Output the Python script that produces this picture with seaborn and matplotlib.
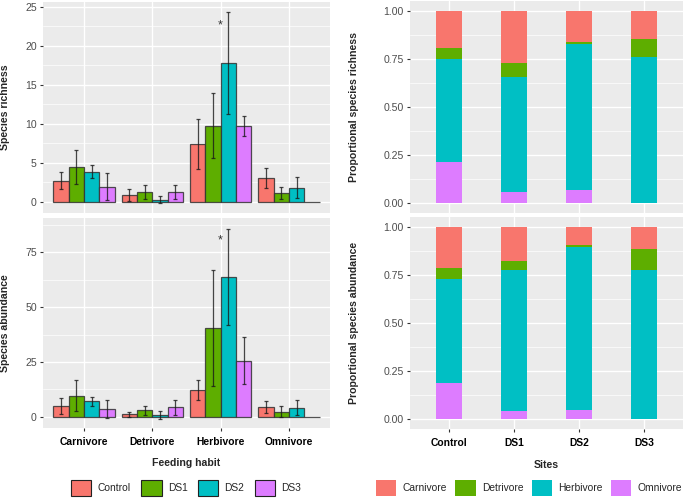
import numpy as np
import pandas as pd
import matplotlib.pyplot as plt
import seaborn as sns
from matplotlib.patches import Patch
from matplotlib.ticker import MultipleLocator

habits = ['Carnivore', 'Detrivore', 'Herbivore', 'Omnivore']
sites = ['Control', 'DS1', 'DS2', 'DS3']

# mean and standard error, rows = feeding habit, columns = site
rich_mean = [[2.70, 4.43, 3.87, 1.91],
             [0.87, 1.22, 0.26, 1.22],
             [7.34, 9.74, 17.80, 9.66],
             [3.00, 1.07, 1.80, 0.00]]
rich_se = [[1.11, 2.20, 0.80, 1.75],
           [0.78, 0.92, 0.44, 0.92],
           [3.20, 4.20, 6.55, 1.30],
           [1.29, 0.75, 1.33, 0.00]]

abun_mean = [[5.0, 9.7, 7.0, 3.6],
             [1.1, 2.9, 0.9, 4.3],
             [12.0, 40.6, 63.9, 25.5],
             [4.5, 2.4, 4.2, 0.0]]
abun_se = [[3.50, 6.90, 2.25, 4.00],
           [1.20, 1.90, 1.70, 3.40],
           [4.55, 26.40, 21.90, 10.75],
           [2.65, 2.40, 3.45, 0.00]]

# proportions per site (Control, DS1, DS2, DS3)
prich_carn = [0.192, 0.273, 0.164, 0.147]
prich_det = [0.061, 0.073, 0.009, 0.095]
prich_herb = [0.532, 0.595, 0.756, 0.758]
prich_omn = [0.215, 0.059, 0.071, 0.000]

pabun_carn = [0.213, 0.178, 0.093, 0.114]
pabun_det = [0.059, 0.045, 0.011, 0.109]
pabun_herb = [0.539, 0.734, 0.848, 0.777]
pabun_omn = [0.189, 0.043, 0.048, 0.000]

cols = ['#F8766D', '#5EAE00', '#00BFC4', '#DD7CFF']

sns.set_theme(style='darkgrid', rc={'axes.facecolor': '#EBEBEB', 'grid.color': 'white'})
plt.rcParams['font.family'] = ['Liberation Sans', 'DejaVu Sans']

fig = plt.figure(figsize=(6.85, 4.99), dpi=100)
W, H = 685, 499


def add_ax(x0, y0, x1, y1):
    return fig.add_axes([x0 / W, 1 - y1 / H, (x1 - x0) / W, (y1 - y0) / H])


def style(ax, ylim, major, show_x):
    ax.set_facecolor('#EBEBEB')
    for s in ax.spines.values():
        s.set_visible(False)
    ax.set_xlim(-0.6, 3.6)
    ax.set_ylim(*ylim)
    ax.yaxis.set_major_locator(MultipleLocator(major))
    ax.yaxis.set_minor_locator(MultipleLocator(major / 2))
    ax.grid(True, which='major', color='white', lw=1.0)
    ax.grid(True, which='minor', axis='y', color='white', lw=0.5)
    ax.set_axisbelow(True)
    ax.tick_params(axis='y', which='major', left=True, length=2.5, width=0.8,
                   color='#333333', labelsize=7.6, labelcolor='#4D4D4D', pad=2)
    ax.tick_params(which='minor', length=0)
    if show_x:
        ax.tick_params(axis='x', bottom=True, length=2.5, width=0.8, color='#333333',
                       labelsize=7.4, labelcolor='black', pad=4)
        for t in ax.get_xticklabels():
            t.set_fontweight('bold')
    else:
        ax.tick_params(axis='x', bottom=False, labelbottom=False)
    ax.set_xlabel('')


def bar_panel(ax, means, ses):
    df = pd.DataFrame([(h, s, means[i][j]) for i, h in enumerate(habits)
                       for j, s in enumerate(sites)], columns=['habit', 'site', 'value'])
    sns.barplot(data=df, x='habit', y='value', hue='site', order=habits, hue_order=sites,
                palette=cols, saturation=1, errorbar=None, width=0.9,
                edgecolor=(0.2, 0.2, 0.2, 0.85), linewidth=0.9, legend=False, ax=ax)
    bars = list(ax.containers)
    for j, cont in enumerate(bars):
        for i, bar in enumerate(cont):
            se = ses[i][j]
            if se > 0:
                ax.errorbar(bar.get_x() + bar.get_width() / 2, bar.get_height(), yerr=se,
                            fmt='none', ecolor='#1A1A1A', alpha=0.8, elinewidth=0.9,
                            capsize=1.6, capthick=0.9)


def stack_panel(ax, carn, det, herb, omn):
    omn = np.array(omn)
    tops = [omn + herb + det + carn, omn + herb + det, omn + herb, omn]
    for c, top in zip(cols, tops):
        sns.barplot(x=sites, y=top, color=c, saturation=1, width=0.4,
                    linewidth=0, edgecolor='none', ax=ax)


ax1 = add_ax(43, 2, 330, 213)
bar_panel(ax1, rich_mean, rich_se)
style(ax1, (-1.45, 25.6), 5, False)
ax1.text(2, 22.6, '*', ha='center', va='center', fontsize=9, color='#333333')
ax1.set_ylabel('Species richness', fontsize=7.6, fontweight='bold')
ax1.yaxis.set_label_coords(-0.115, 0.5)

ax2 = add_ax(43, 218, 330, 428)
bar_panel(ax2, abun_mean, abun_se)
style(ax2, (-5.1, 90.6), 25, True)
ax2.text(2, 80.3, '*', ha='center', va='center', fontsize=9, color='#333333')
ax2.set_ylabel('Species abundance', fontsize=7.6, fontweight='bold')
ax2.yaxis.set_label_coords(-0.115, 0.5)
ax2.set_xlabel('Feeding habit', fontsize=7.6, fontweight='bold')
ax2.xaxis.set_label_coords(0.5, -0.145)

ax3 = add_ax(410, 1, 683, 213)
stack_panel(ax3, prich_carn, prich_det, prich_herb, prich_omn)
style(ax3, (-0.05, 1.05), 0.25, False)
ax3.yaxis.set_major_formatter(lambda v, p: f'{v:.2f}')
ax3.set_ylabel('Proportional species richness', fontsize=7.6, fontweight='bold')
ax3.yaxis.set_label_coords(-0.185, 0.5)

ax4 = add_ax(410, 217, 683, 429)
stack_panel(ax4, pabun_carn, pabun_det, pabun_herb, pabun_omn)
style(ax4, (-0.05, 1.05), 0.25, True)
ax4.yaxis.set_major_formatter(lambda v, p: f'{v:.2f}')
ax4.set_ylabel('Proportional species abundance', fontsize=7.6, fontweight='bold')
ax4.yaxis.set_label_coords(-0.185, 0.5)
ax4.set_xlabel('Sites', fontsize=7.6, fontweight='bold')
ax4.xaxis.set_label_coords(0.5, -0.145)

h_left = [Patch(facecolor=c, edgecolor='#222222', linewidth=0.8) for c in cols]
fig.legend(h_left, sites, loc='center', bbox_to_anchor=(186 / W, 1 - 488 / H),
           ncol=4, frameon=False, fontsize=7.4, handlelength=2.0, handleheight=2.0,
           handletextpad=0.6, columnspacing=1.0, borderpad=0)

h_right = [Patch(facecolor=c, edgecolor='none') for c in cols]
fig.legend(h_right, habits, loc='center', bbox_to_anchor=(529 / W, 1 - 488 / H),
           ncol=4, frameon=False, fontsize=7.4, handlelength=2.0, handleheight=2.0,
           handletextpad=0.6, columnspacing=0.8, borderpad=0)

fig.savefig('out.png', dpi=100)
